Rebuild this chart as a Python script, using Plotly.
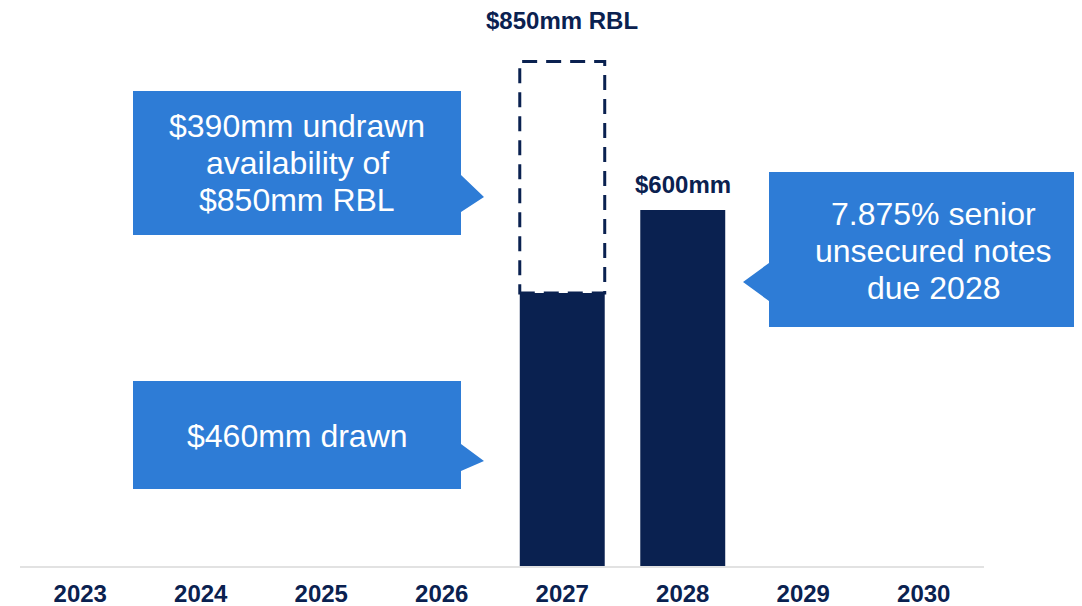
import plotly.graph_objects as go

# ---- data ----
years = ["2023", "2024", "2025", "2026", "2027", "2028", "2029", "2030"]
drawn = [None, None, None, None, 460, 600, None, None]   # $mm outstanding
rbl_year = "2027"
rbl_drawn = 460
rbl_total = 850
notes_year = "2028"
notes_value = 600

callout_rbl_undrawn = ["$390mm undrawn", "availability of", "$850mm RBL"]
callout_rbl_drawn = ["$460mm drawn"]
callout_notes = ["7.875% senior", "unsecured notes", "due 2028"]

NAVY = "#0A2150"
BLUE = "#2E7CD6"
FONT = "Arial, Liberation Sans, sans-serif"

OFF = 8  # page body margin
W, H = 1082, 606 - OFF
ML, MT, MB = 12, 2, 40
PW = 964
MR = W - ML - PW
PH = H - MT - MB
BAR_W = 0.705
YMAX = PH / 0.5935

xpos = list(range(len(years)))


def px(x):  # screen pixel -> paper
    return (x - OFF - ML) / PW


def py(y):
    return (H - MB - (y - OFF)) / PH


fig = go.Figure()
fig.add_trace(go.Bar(
    x=xpos, y=drawn, width=BAR_W,
    marker=dict(color=NAVY, line=dict(width=0)),
    hoverinfo="skip", showlegend=False,
))

# dashed outline for total RBL commitment
idx = years.index(rbl_year)
fig.add_shape(type="rect", xref="x", yref="y",
              x0=idx - BAR_W / 2, x1=idx + BAR_W / 2,
              y0=rbl_drawn, y1=rbl_total,
              line=dict(color=NAVY, width=3, dash="15px,9px"),
              fillcolor="rgba(0,0,0,0)", layer="below")

# value labels
fig.add_annotation(x=idx, y=rbl_total, xref="x", yref="y",
                   text=f"<b>${rbl_total}mm RBL</b>", showarrow=False,
                   yanchor="bottom", yshift=26,
                   font=dict(family=FONT, size=24, color=NAVY))
fig.add_annotation(x=years.index(notes_year), y=notes_value, xref="x", yref="y",
                   text=f"<b>${notes_value}mm</b>", showarrow=False,
                   yanchor="bottom", yshift=10,
                   font=dict(family=FONT, size=24, color=NAVY))


def callout(x0, x1, y0, y1, side, a_top, tip_x, tip_y, a_bot):
    if side == "right":
        path = (f"M {px(x0)},{py(y0)} L {px(x1)},{py(y0)} L {px(x1)},{py(a_top)} "
                f"L {px(tip_x)},{py(tip_y)} L {px(x1)},{py(a_bot)} L {px(x1)},{py(y1)} "
                f"L {px(x0)},{py(y1)} Z")
    else:
        path = (f"M {px(x0)},{py(y0)} L {px(x1)},{py(y0)} L {px(x1)},{py(y1)} "
                f"L {px(x0)},{py(y1)} L {px(x0)},{py(a_bot)} L {px(tip_x)},{py(tip_y)} "
                f"L {px(x0)},{py(a_top)} Z")
    fig.add_shape(type="path", xref="paper", yref="paper", path=path,
                  fillcolor=BLUE, line=dict(width=0), layer="above")


def callout_text(lines, cx, cy, spacing=37):
    n = len(lines)
    for i, t in enumerate(lines):
        y = cy + (i - (n - 1) / 2) * spacing
        fig.add_annotation(x=px(cx), y=py(y), xref="paper", yref="paper",
                           text=t, showarrow=False, xanchor="center", yanchor="middle",
                           font=dict(family=FONT, size=32, color="white"))


callout(133, 461, 91, 235, "right", 175, 484, 197, 212)
callout_text(callout_rbl_undrawn, 297, 163)
callout(133, 461, 381, 489, "right", 444, 484, 461, 471)
callout_text(callout_rbl_drawn, 297, 436)
callout(769, 1110, 172, 327, "left", 263, 743, 282, 301)
callout_text(callout_notes, 933, 251)

fig.update_layout(
    width=W, height=H,
    margin=dict(l=ML, r=MR, t=MT, b=MB, autoexpand=False),
    paper_bgcolor="white", plot_bgcolor="white",
    xaxis=dict(range=[-0.5, len(years) - 0.5], tickmode="array",
               tickvals=xpos, ticktext=[f"<b>{y}</b>" for y in years],
               showline=True, linecolor="#E2E2E2", linewidth=2,
               showgrid=False, ticks="", zeroline=False, tickangle=0,
               tickfont=dict(family=FONT, size=24, color=NAVY),
               ticklabelstandoff=5),
    yaxis=dict(range=[0, YMAX], visible=False, showgrid=False, zeroline=False),
)

fig.write_html("out.html")
